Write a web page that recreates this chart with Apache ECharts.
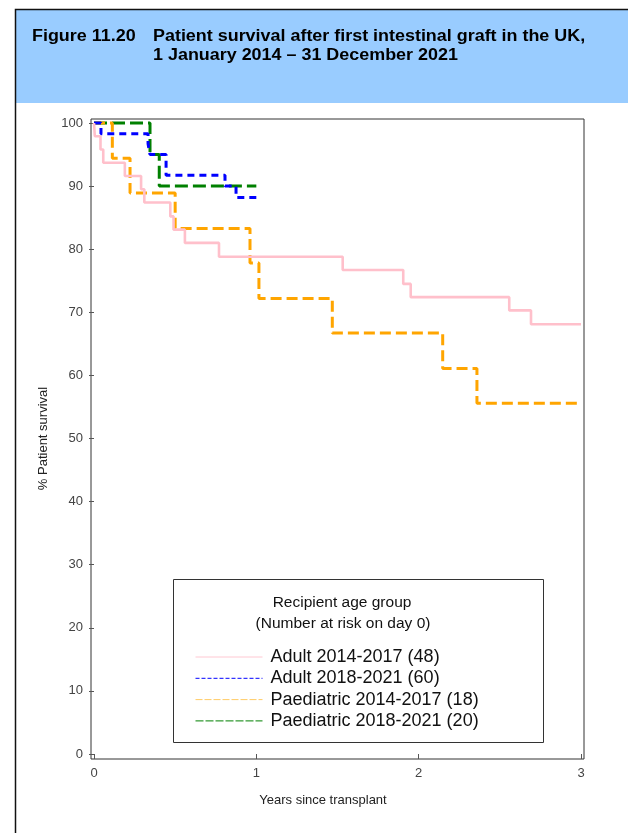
<!DOCTYPE html>
<html>
<head>
<meta charset="utf-8">
<script src="https://cdn.jsdelivr.net/npm/echarts@6/dist/echarts.min.js"></script>
<style>
html,body{margin:0;padding:0;background:#fff;}
#chart{width:628px;height:833px;}
</style>
</head>
<body>
<div id="chart"></div>
<script>
// ---- data (years since transplant, % patient survival) ----
const seriesNames = [
  'Adult 2014-2017 (48)',
  'Adult 2018-2021 (60)',
  'Paediatric 2014-2017 (18)',
  'Paediatric 2018-2021 (20)'
];
const adult1417 = [[0,100],[0.005,97.9],[0.04,95.8],[0.057,93.7],[0.19,91.6],[0.29,89.5],[0.31,87.4],[0.47,85.2],[0.49,83.1],[0.56,81.0],[0.77,78.8],[1.532,76.7],[1.905,74.5],[1.951,72.4],[2.558,70.3],[2.692,68.1],[3.0,68.1]];
const adult1821 = [[0,100],[0.043,98.3],[0.333,96.7],[0.345,95.0],[0.444,91.7],[0.807,90.0],[0.875,88.2],[1.0,88.2]];
const paed1417 = [[0,100],[0.113,94.4],[0.222,88.9],[0.50,83.3],[0.961,77.8],[1.016,72.2],[1.468,66.7],[2.148,61.1],[2.359,55.6],[3.0,55.6]];
const paed1821 = [[0,100],[0.345,95.0],[0.402,90.0],[1.0,90.0]];
const xTicks = [0, 1, 2, 3];
const yTicks = [0, 10, 20, 30, 40, 50, 60, 70, 80, 90, 100];
const figureNo = 'Figure 11.20';
const titleLines = ['Patient survival after first intestinal graft in the UK,', '1 January 2014 \u2013 31 December 2021'];
const legendTitle = ['Recipient age group', '(Number at risk on day 0)'];
const xName = 'Years since transplant';
const yName = '% Patient survival';

const colors = ['#FFC0CB', '#0000FF', '#FFA500', '#008000'];
const dashes = [null, [7, 5], [11, 5], [13, 5]];
const legendDashes = [null, [4, 2], [7, 2], [8, 2]];
const legendColors = ['#FFC8D2', '#0000FF', '#FFCC66', '#008000'];
const allData = [adult1417, adult1821, paed1417, paed1821];

const chart = echarts.init(document.getElementById('chart'));
const font = '"Liberation Sans", Arial, sans-serif';

const series = allData.map((d, i) => ({
  name: seriesNames[i],
  type: 'line',
  step: 'end',
  data: d,
  xAxisIndex: 0,
  yAxisIndex: 0,
  symbol: 'none',
  clip: false,
  z: 10 - i,
  lineStyle: {
    color: colors[i],
    width: i === 0 ? 2.6 : 3,
    type: dashes[i] || 'solid',
    cap: 'butt'
  },
  itemStyle: { color: colors[i] }
}));

chart.setOption({
  animation: false,
  backgroundColor: '#fff',
  grid: [
    { left: 94, right: 47, top: 123, bottom: 79 },
    { left: 91, right: 44, top: 119, bottom: 74, show: true, borderColor: '#333', borderWidth: 1, backgroundColor: 'transparent' }
  ],
  xAxis: [
    {
      type: 'value', gridIndex: 0, min: 0, max: 3, interval: 1, offset: 5,
      axisLine: { show: false },
      axisTick: { show: true, length: 5, lineStyle: { color: '#555' } },
      splitLine: { show: false },
      axisLabel: { margin: 8, fontSize: 13, color: '#444', fontFamily: font,
        formatter: v => xTicks.includes(v) ? String(v) : '' },
      name: xName, nameLocation: 'middle', nameGap: 35,
      nameTextStyle: { fontSize: 13, color: '#222', fontFamily: font, padding: [0, 29, 0, 0] }
    },
    { type: 'value', gridIndex: 1, min: 0, max: 1, show: false }
  ],
  yAxis: [
    {
      type: 'value', gridIndex: 0, min: 0, max: 100, interval: 10, offset: 3,
      axisLine: { show: false },
      axisTick: { show: true, length: 5, lineStyle: { color: '#555' } },
      splitLine: { show: false },
      axisLabel: { margin: 8, fontSize: 13, color: '#444', fontFamily: font,
        formatter: v => yTicks.includes(v) ? String(v) : '' },
      name: yName, nameLocation: 'middle', nameGap: 34, nameRotate: 90,
      nameTextStyle: { fontSize: 13, color: '#222', fontFamily: font }
    },
    { type: 'value', gridIndex: 1, min: 0, max: 1, show: false }
  ],
  legend: {
    orient: 'vertical',
    left: 195,
    top: 648,
    padding: 0,
    itemWidth: 67,
    itemHeight: 10,
    itemGap: 3.3,
    textStyle: { fontSize: 18, lineHeight: 18, color: '#111', fontFamily: font, padding: [0, 0, 0, 3] },
    data: seriesNames.map((n, i) => ({
      name: n,
      itemStyle: { color: legendColors[i], opacity: 0 },
      lineStyle: { width: 1, color: legendColors[i], type: legendDashes[i] || 'solid', opacity: 1 }
    }))
  },
  graphic: [
    { type: 'rect', z: -10, silent: true, shape: { x: 16, y: 10, width: 640, height: 93 }, style: { fill: '#99CCFF' } },
    { type: 'rect', z: -5, silent: true, shape: { x: 15.5, y: 9.5, width: 700, height: 900 }, style: { fill: 'none', stroke: '#111', lineWidth: 1.5 } },
    { type: 'text', z: 5, x: 32, y: 37, scaleX: 1.12, style: { text: figureNo, font: 'bold 16px ' + font, fill: '#000', textVerticalAlign: 'middle' } },
    { type: 'text', z: 5, x: 153, y: 37, scaleX: 1.12, style: { text: titleLines[0], font: 'bold 16px ' + font, fill: '#000', textVerticalAlign: 'middle' } },
    { type: 'text', z: 5, x: 153, y: 56, scaleX: 1.12, style: { text: titleLines[1], font: 'bold 16px ' + font, fill: '#000', textVerticalAlign: 'middle' } },
    { type: 'rect', z: 3, silent: true, shape: { x: 173.5, y: 579.5, width: 370, height: 163 }, style: { fill: '#fff', stroke: '#333', lineWidth: 1 } },
    { type: 'text', z: 5, x: 342, y: 603, style: { text: legendTitle[0], font: '15.5px ' + font, fill: '#111', textAlign: 'center', textVerticalAlign: 'middle' } },
    { type: 'text', z: 5, x: 343, y: 624, style: { text: legendTitle[1], font: '15.5px ' + font, fill: '#111', textAlign: 'center', textVerticalAlign: 'middle' } }
  ],
  series: series
});
</script>
</body>
</html>
